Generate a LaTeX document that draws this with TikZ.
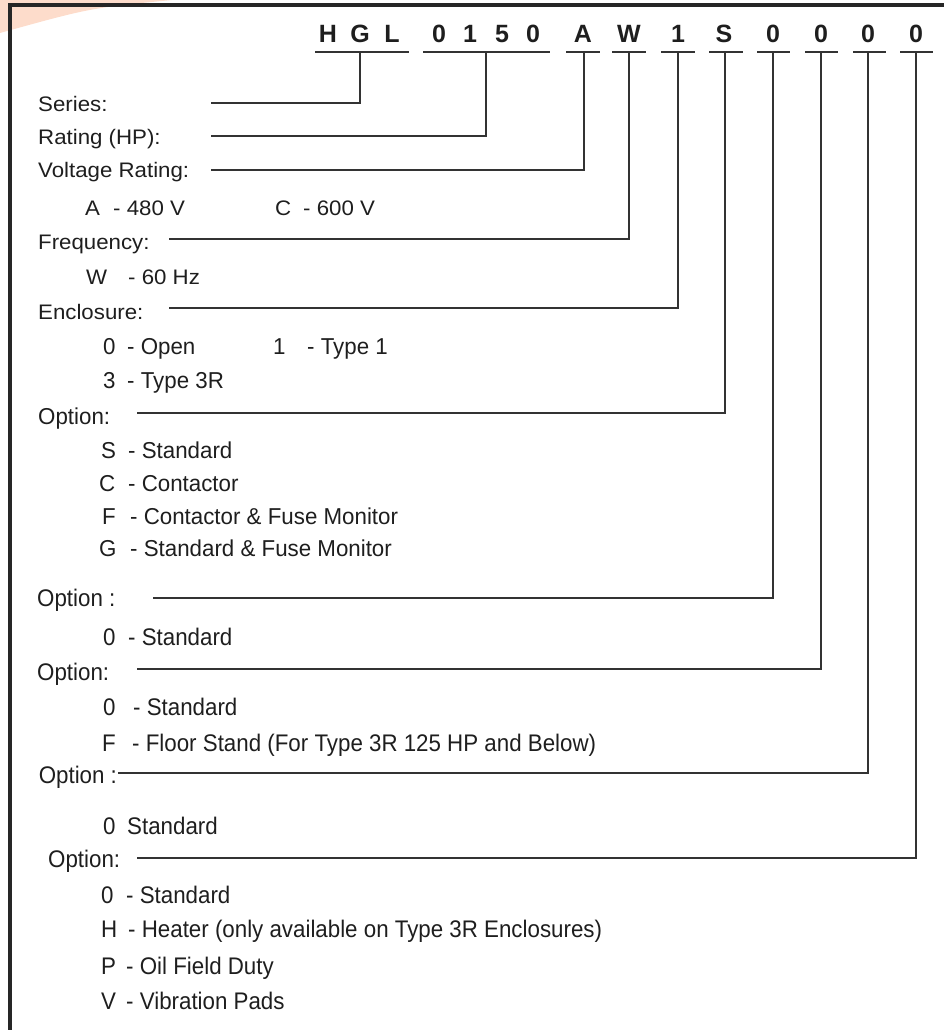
\documentclass[tikz,border=0pt]{standalone}
\usepackage{fontspec}
\setmainfont{Liberation Sans}
\newfontfamily\upfont[FakeStretch=1.06]{Liberation Sans}
\newfontfamily\midfont[FakeStretch=0.97]{Liberation Sans}
\newfontfamily\lowfont[FakeStretch=0.93]{Liberation Sans}
\definecolor{ink}{HTML}{1E1E1E}
\definecolor{leadgray}{HTML}{333333}
\definecolor{framegray}{HTML}{262626}
\definecolor{peach}{HTML}{FDDCCB}
\tikzset{
  uptext/.style={anchor=base west, inner sep=0pt, text=ink, font=\upfont\fontsize{21}{25}\selectfont},
  midtext/.style={anchor=base west, inner sep=0pt, text=ink, font=\midfont\fontsize{23}{27}\selectfont},
  lowtext/.style={anchor=base west, inner sep=0pt, text=ink, font=\lowfont\fontsize{24}{28}\selectfont},
  codechar/.style={anchor=base, inner sep=0pt, text=ink, font=\bfseries\fontsize{25}{30}\selectfont},
  leader/.style={draw=leadgray, line width=1.5pt},
}
\begin{document}
\begin{tikzpicture}[x=1pt,y=-1pt]
    \useasboundingbox (0,0) rectangle (944,1030);
    \clip (0,0) rectangle (944,1030);
    % corner tint and frame
    \fill[peach] (0,0) -- (172,0) .. controls (90,8) .. (0,33) -- cycle;
    \draw[line width=4pt, draw=framegray] (10.3,1100) -- (10.3,5.3) -- (1000,5.3);
    % model code
    \foreach \c/\x [count=\i] in {H/328,G/360,L/392,0/439,1/470,5/502,0/533,A/583,W/629,1/678,S/724,0/773,0/821,0/868,0/916}
        \node[codechar] (c\i) at (\x,43) {\c};
    \foreach \a/\b in {315/409,423/550,566/600,612/646,661/695,709/743,757/790,805/838,853/886,900/933}
        \draw[leader] (\a,52) -- (\b,52);
    % leaders: start x / height / drop x
    \foreach \sx/\y/\dx [count=\n] in {211/103/360,211/136/486,211/170/584,169/239/629,169/308/678,137/413/725,153/598/773,137/669/821,118/773/868,137/858/916}{
        \coordinate (s\n) at (\sx,\y);
        \coordinate (d\n) at (\dx,52);
        \draw[leader] (s\n) -| (d\n);
    }
    % series, rating, voltage, frequency, enclosure
    \node[uptext] (series) at (38,112) {Series:};
    \node[uptext] (rating) at (38,144) {Rating (HP):};
    \node[uptext] (volt) at (38,177) {Voltage Rating:};
    \node[uptext] (va) at (85,215) {A};
    \node[uptext] (vatxt) at (113,215) {- 480 V};
    \node[uptext] (vc) at (275,215) {C};
    \node[uptext] (vctxt) at (303,215) {- 600 V};
    \node[uptext] (freq) at (38,249) {Frequency:};
    \node[uptext] (fw) at (86,284) {W};
    \node[uptext] (fwtxt) at (128,284) {- 60 Hz};
    \node[uptext] (encl) at (38,319) {Enclosure:};
    \node[midtext] (e0) at (103,354) {0};
    \node[midtext] (e0txt) at (127,354) {- Open};
    \node[midtext] (e1) at (273,354) {1};
    \node[midtext] (e1txt) at (307,354) {- Type 1};
    \node[midtext] (e3) at (103,388) {3};
    \node[midtext] (e3txt) at (127,388) {- Type 3R};
    % first option
    \node[midtext] (opta) at (38,424) {Option:};
    \node[midtext] (oas) at (101,458) {S};
    \node[midtext] (oastxt) at (128,458) {- Standard};
    \node[midtext] (oac) at (99,491) {C};
    \node[midtext] (oactxt) at (128,491) {- Contactor};
    \node[midtext] (oaf) at (102,524) {F};
    \node[midtext] (oaftxt) at (130,524) {- Contactor \& Fuse Monitor};
    \node[midtext] (oag) at (99,556) {G};
    \node[midtext] (oagtxt) at (130,556) {- Standard \& Fuse Monitor};
    % second option
    \node[lowtext] (optb) at (37,606) {Option :};
    \node[lowtext] (ob0) at (103,645) {0};
    \node[lowtext] (ob0txt) at (128,645) {- Standard};
    % third option
    \node[lowtext] (optc) at (37,680) {Option:};
    \node[lowtext] (oc0) at (103,715) {0};
    \node[lowtext] (oc0txt) at (133,715) {- Standard};
    \node[lowtext] (ocf) at (102,751) {F};
    \node[lowtext] (ocftxt) at (132,751) {- Floor Stand (For Type 3R 125 HP and Below)};
    % fourth option
    \node[lowtext] (optd) at (38.6,783) {Option :};
    \node[lowtext] (od0) at (103,834) {0};
    \node[lowtext] (od0txt) at (127,834) {Standard};
    % fifth option
    \node[lowtext] (opte) at (48,867) {Option:};
    \node[lowtext] (oe0) at (101,903) {0};
    \node[lowtext] (oe0txt) at (126,903) {- Standard};
    \node[lowtext] (oeh) at (101,937) {H};
    \node[lowtext] (oehtxt) at (128,937) {- Heater (only available on Type 3R Enclosures)};
    \node[lowtext] (oep) at (101,974) {P};
    \node[lowtext] (oeptxt) at (126,974) {- Oil Field Duty};
    \node[lowtext] (oev) at (101,1009) {V};
    \node[lowtext] (oevtxt) at (126,1009) {- Vibration Pads};
\end{tikzpicture}
\end{document}
